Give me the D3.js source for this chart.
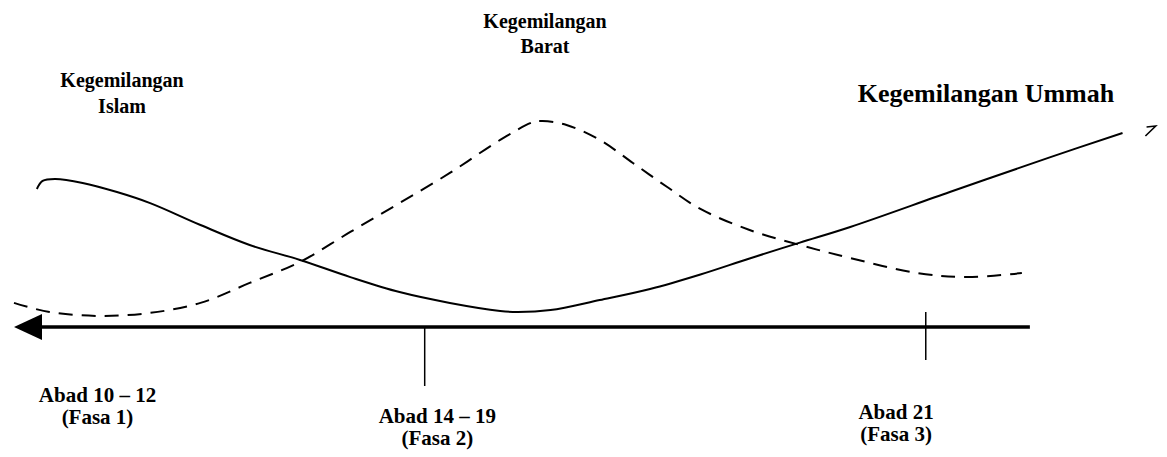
<!DOCTYPE html>
<html>
<head>
<meta charset="utf-8">
<script src="https://cdn.jsdelivr.net/npm/d3@7"></script>
<style>
  body { margin: 0; background: #fff; }
</style>
</head>
<body>
<div id="chart"></div>
<script>
// timeline position (0-100) and level (0 = on the axis)
var islamX = [2.0, 2.5, 3.6, 6.0, 9.0, 11.9, 16.3, 20.6, 25.0, 29.4, 33.7, 38.1, 42.5, 44.0, 46.9, 51.2, 55.6, 60.0, 64.3, 68.7, 73.1, 81.8, 90.6, 96.9];
var islamY = [63.6, 67.3, 68.2, 66.4, 62.2, 57.1, 47.0, 37.8, 30.9, 23.0, 16.1, 11.1, 7.4, 6.9, 7.8, 12.4, 17.5, 24.2, 31.6, 38.9, 46.1, 62.2, 78.3, 89.4];

var baratX = [0, 3.1, 7.5, 11.9, 16.3, 20.6, 25.0, 29.4, 33.7, 38.1, 42.5, 45.4, 46.2, 48.3, 51.2, 54.1, 57.1, 60.0, 64.3, 68.7, 73.1, 78.9, 83.3, 88.1];
var baratY = [11.1, 6.9, 5.1, 6.5, 11.1, 20.3, 30.0, 43.8, 57.1, 71.0, 86.2, 94.5, 94.9, 93.1, 86.2, 75.6, 64.5, 54.4, 44.7, 37.8, 31.8, 24.9, 23.0, 24.9];

// small hand-drawn mark at the end of the rising line
var endMarkX = [99.0, 99.8, 98.9];
var endMarkY = [92.2, 92.6, 88.0];

var phaseLabels = [["Abad 10 \u2013 12", "(Fasa 1)"], ["Abad 14 \u2013 19", "(Fasa 2)"], ["Abad 21", "(Fasa 3)"]];
var phaseX = [7.3, 37.0, 77.1];
var tickX = [35.9, 79.7];
var axisEnd = 88.8;

var svgWidth = 1167;
var svgHeight = 457;
var serif = "'Liberation Serif', 'Times New Roman', Times, serif";

var svg = d3.select("#chart")
  .append("svg")
  .attr("width", svgWidth)
  .attr("height", svgHeight);

var x = d3.scaleLinear().domain([0, 100]).range([14, 1158]);
var y = d3.scaleLinear().domain([0, 100]).range([327, 110]);

var line = d3.line()
  .x(d => x(d[0]))
  .y(d => y(d[1]))
  .curve(d3.curveCatmullRom.alpha(0.5));

// time axis with arrow pointing left
svg.append("line")
  .attr("x1", x(2.2))
  .attr("x2", x(axisEnd))
  .attr("y1", y(0))
  .attr("y2", y(0))
  .attr("stroke", "#000")
  .attr("stroke-width", 3.5);

svg.append("path")
  .attr("d", `M${x(0)},${y(0)} L${x(2.45)},${y(0) - 13} L${x(2.45)},${y(0) + 13} Z`)
  .attr("fill", "#000");

svg.append("line")
  .attr("x1", x(tickX[0])).attr("x2", x(tickX[0]))
  .attr("y1", y(0)).attr("y2", y(0) + 59)
  .attr("stroke", "#000").attr("stroke-width", 1.5);

svg.append("line")
  .attr("x1", x(tickX[1])).attr("x2", x(tickX[1]))
  .attr("y1", y(0) - 15).attr("y2", y(0) + 33)
  .attr("stroke", "#000").attr("stroke-width", 1.5);

// curves
svg.append("path")
  .datum(baratX.map((v, i) => [v, baratY[i]]))
  .attr("d", line)
  .attr("fill", "none")
  .attr("stroke", "#000")
  .attr("stroke-width", 2)
  .attr("stroke-dasharray", "14,9");

svg.append("path")
  .datum(islamX.map((v, i) => [v, islamY[i]]))
  .attr("d", line)
  .attr("fill", "none")
  .attr("stroke", "#000")
  .attr("stroke-width", 2);

svg.append("path")
  .datum(endMarkX.map((v, i) => [v, endMarkY[i]]))
  .attr("d", d3.line().x(d => x(d[0])).y(d => y(d[1])))
  .attr("fill", "none")
  .attr("stroke", "#000")
  .attr("stroke-width", 1.6);

// phase labels
phaseLabels.forEach(function(lines, i) {
  var t = svg.append("text")
    .attr("font-family", serif)
    .attr("font-weight", "bold")
    .attr("text-anchor", "middle")
    .attr("font-size", "21px")
    .attr("x", x(phaseX[i]))
    .attr("y", i == 0 ? 402 : (i == 1 ? 423 : 419));
  t.append("tspan").attr("x", x(phaseX[i])).text(lines[0]);
  t.append("tspan").attr("x", x(phaseX[i])).attr("dy", 22).text(lines[1]);
});

// curve titles
var islam = svg.append("text")
  .attr("font-family", serif)
  .attr("font-weight", "bold")
  .attr("text-anchor", "middle")
  .attr("font-size", "20px")
  .attr("y", 87);
islam.append("tspan").attr("x", 122).text("Kegemilangan");
islam.append("tspan").attr("x", 122).attr("dy", 26).text("Islam");

var barat = svg.append("text")
  .attr("font-family", serif)
  .attr("font-weight", "bold")
  .attr("text-anchor", "middle")
  .attr("font-size", "20px")
  .attr("y", 28);
barat.append("tspan").attr("x", 545).text("Kegemilangan");
barat.append("tspan").attr("x", 545).attr("dy", 25).text("Barat");

svg.append("text")
  .attr("font-family", serif)
  .attr("font-weight", "bold")
  .attr("text-anchor", "middle")
  .attr("font-size", "26px")
  .attr("x", 986)
  .attr("y", 102)
  .text("Kegemilangan Ummah");
</script>
</body>
</html>
